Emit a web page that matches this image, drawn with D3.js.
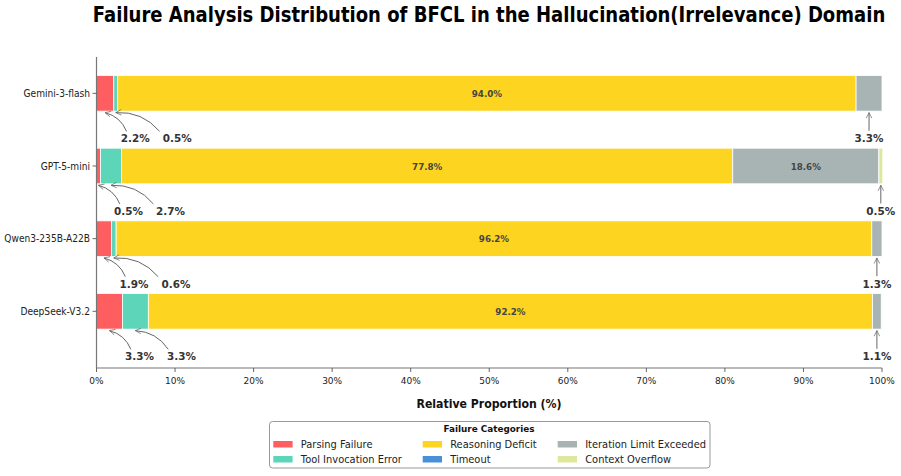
<!DOCTYPE html>
<html><head><meta charset="utf-8">
<script src="https://cdn.jsdelivr.net/npm/d3@7/dist/d3.min.js"></script>
<style>body{margin:0;background:#fff}svg{display:block;font-family:"DejaVu Sans",sans-serif}</style>
</head><body><div id="chart"></div>
<script>
const models = ["Gemini-3-flash","GPT-5-mini","Qwen3-235B-A22B","DeepSeek-V3.2"];
const categories = ["Parsing Failure","Tool Invocation Error","Reasoning Deficit","Timeout","Iteration Limit Exceeded","Context Overflow"];
const parsingFailure = [2.2,0.5,1.9,3.3];
const toolInvocationError = [0.5,2.7,0.6,3.3];
const reasoningDeficit = [94.0,77.8,96.2,92.2];
const timeout = [0,0,0,0];
const iterationLimit = [3.3,18.6,1.3,1.1];
const contextOverflow = [0,0.5,0,0];
const xTickValues = [0,10,20,30,40,50,60,70,80,90,100];
const colors = ["#fe5e5f","#5dd5b8","#fdd41f","#4a90d9","#a8b4b4","#dde89c"];
const title = "Failure Analysis Distribution of BFCL in the Hallucination(Irrelevance) Domain";
const xLabel = "Relative Proportion (%)";
const legendTitle = "Failure Categories";

const series = [parsingFailure, toolInvocationError, reasoningDeficit, timeout, iterationLimit, contextOverflow];
const W = 901, H = 476;
const svg = d3.select("#chart").append("svg").attr("width", W).attr("height", H);
const defs = svg.append("defs");
defs.append("marker").attr("id","ah").attr("viewBox","0 0 10 10").attr("refX",9).attr("refY",5)
  .attr("markerWidth",7).attr("markerHeight",7).attr("orient","auto-start-reverse").attr("markerUnits","userSpaceOnUse")
  .append("path").attr("d","M1,1 L9,5 L1,9").attr("fill","none").attr("stroke","#666").attr("stroke-width",1);

function txt(parent, s, x, y, opts) {
  const sx = opts.sx || 1;
  const t = parent.append("text").text(s)
    .attr("transform", `translate(${x},${y}) scale(${sx},1)`)
    .attr("font-size", opts.size).attr("fill", opts.fill || "#222")
    .attr("text-anchor", opts.anchor || "middle")
    .attr("dominant-baseline", "central");
  if (opts.bold) t.attr("font-weight", "bold");
  return t;
}

const x = d3.scaleLinear().domain([0,100]).range([96.5, 882]);
const y = d3.scaleLinear().domain([-0.5, 3.78]).range([57, 368]);
const barH = (y(1) - y(0)) * 0.49;

// title
txt(svg, title, 489, 15, {size: 20.5, bold: true, fill: "#000", sx: 0.88});

// bars
const g = svg.append("g");
models.forEach((m, i) => {
  let cum = 0;
  const segs = [];
  series.forEach((s, c) => {
    const v = s[i];
    segs.push({c, v, x0: cum, x1: cum + v});
    cum += v;
  });
  const yc = y(i);
  g.selectAll(null).data(segs.filter(d => d.v > 0)).enter().append("rect")
    .attr("x", d => x(d.x0)).attr("width", d => x(d.x1) - x(d.x0))
    .attr("y", yc - barH/2).attr("height", barH)
    .attr("fill", d => colors[d.c]).attr("stroke", "#fff").attr("stroke-width", 0.8);
  segs.filter(d => d.v >= 5).forEach(d => {
    txt(g, d.v.toFixed(1) + "%", x((d.x0 + d.x1)/2), yc + 0.5, {size: 9, bold: true, fill: "#444", sx: 0.97});
  });
  const small = segs.filter(d => d.v > 0 && d.v < 5);
  const leftSmall = small.filter(d => d.c <= 1);
  const rightSmall = small.filter(d => d.c > 1);
  const ly = yc + 45.5;
  const tipY = yc + barH/2 + 1.5;
  const firstC = leftSmall.length ? x((leftSmall[0].x0 + leftSmall[0].x1)/2) : 0;
  leftSmall.forEach((d, k) => {
    const tx = firstC + 30 + 42*k;
    const cx = x((d.x0 + d.x1)/2);
    txt(g, d.v.toFixed(1) + "%", tx, ly, {size: 11, bold: true, fill: "#333", sx: 0.95});
    const dx = cx - tx, dy = tipY - ly;
    const t = (-7.5) / dy;
    const sx = tx + dx * t, sy = ly - 7.5;
    const mx = (sx + cx)/2, my = (sy + tipY)/2;
    const ddx = cx - sx, ddy = tipY - sy;
    const r = 0.25;
    const qx = mx - r*ddy, qy = my + r*ddx;
    g.append("path").attr("d", `M${sx},${sy} Q${qx},${qy} ${cx},${tipY}`)
      .attr("fill","none").attr("stroke","#666").attr("stroke-width",1).attr("marker-end","url(#ah)");
  });
  rightSmall.forEach(d => {
    const cx = x((d.x0 + d.x1)/2);
    txt(g, d.v.toFixed(1) + "%", cx, ly, {size: 11, bold: true, fill: "#333", sx: 0.95});
    g.append("line").attr("x1", cx).attr("x2", cx).attr("y1", ly - 8).attr("y2", tipY)
      .attr("stroke","#666").attr("stroke-width",1).attr("marker-end","url(#ah)");
  });
});

// axes
const ax = svg.append("g");
ax.append("line").attr("x1", x(0)).attr("x2", x(0)).attr("y1", y(-0.5)).attr("y2", y(3.78)).attr("stroke","#777").attr("stroke-width",1.2);
ax.append("line").attr("x1", x(0)).attr("x2", x(100)).attr("y1", y(3.78)).attr("y2", y(3.78)).attr("stroke","#777").attr("stroke-width",1.2);
xTickValues.forEach(v => {
  ax.append("line").attr("x1", x(v)).attr("x2", x(v)).attr("y1", y(3.78)).attr("y2", y(3.78)+4).attr("stroke","#555").attr("stroke-width",0.9);
  txt(ax, v + "%", x(v), 380, {size: 9.5, fill: "#222", sx: 0.95});
});
models.forEach((m, i) => {
  ax.append("line").attr("x1", x(0)-4).attr("x2", x(0)).attr("y1", y(i)).attr("y2", y(i)).attr("stroke","#555").attr("stroke-width",0.9);
  txt(ax, m, 90, y(i), {size: 10, anchor: "end", fill: "#222", sx: 0.91});
});
txt(svg, xLabel, 489, 404, {size: 12.3, bold: true, fill: "#111", sx: 0.89});

// legend
const lg = svg.append("g");
lg.append("rect").attr("x", 269.5).attr("y", 421.5).attr("width", 440.5).attr("height", 46.5).attr("rx", 3)
  .attr("fill","#fff").attr("stroke","#999").attr("stroke-width",1);
txt(lg, legendTitle, 489, 429.3, {size: 9.3, bold: true, fill: "#111", sx: 0.95});
const colX = [273.3, 422.7, 557.7];
const rowY = [444, 459];
categories.forEach((c, k) => {
  const col = Math.floor(k/2), row = k % 2;
  lg.append("rect").attr("x", colX[col]).attr("y", rowY[row]-3).attr("width", 19.3).attr("height", 6.5).attr("fill", colors[k]);
  txt(lg, c, colX[col] + 27.5, rowY[row], {size: 10.2, anchor: "start", fill: "#222", sx: 0.97});
});
</script></body></html>
